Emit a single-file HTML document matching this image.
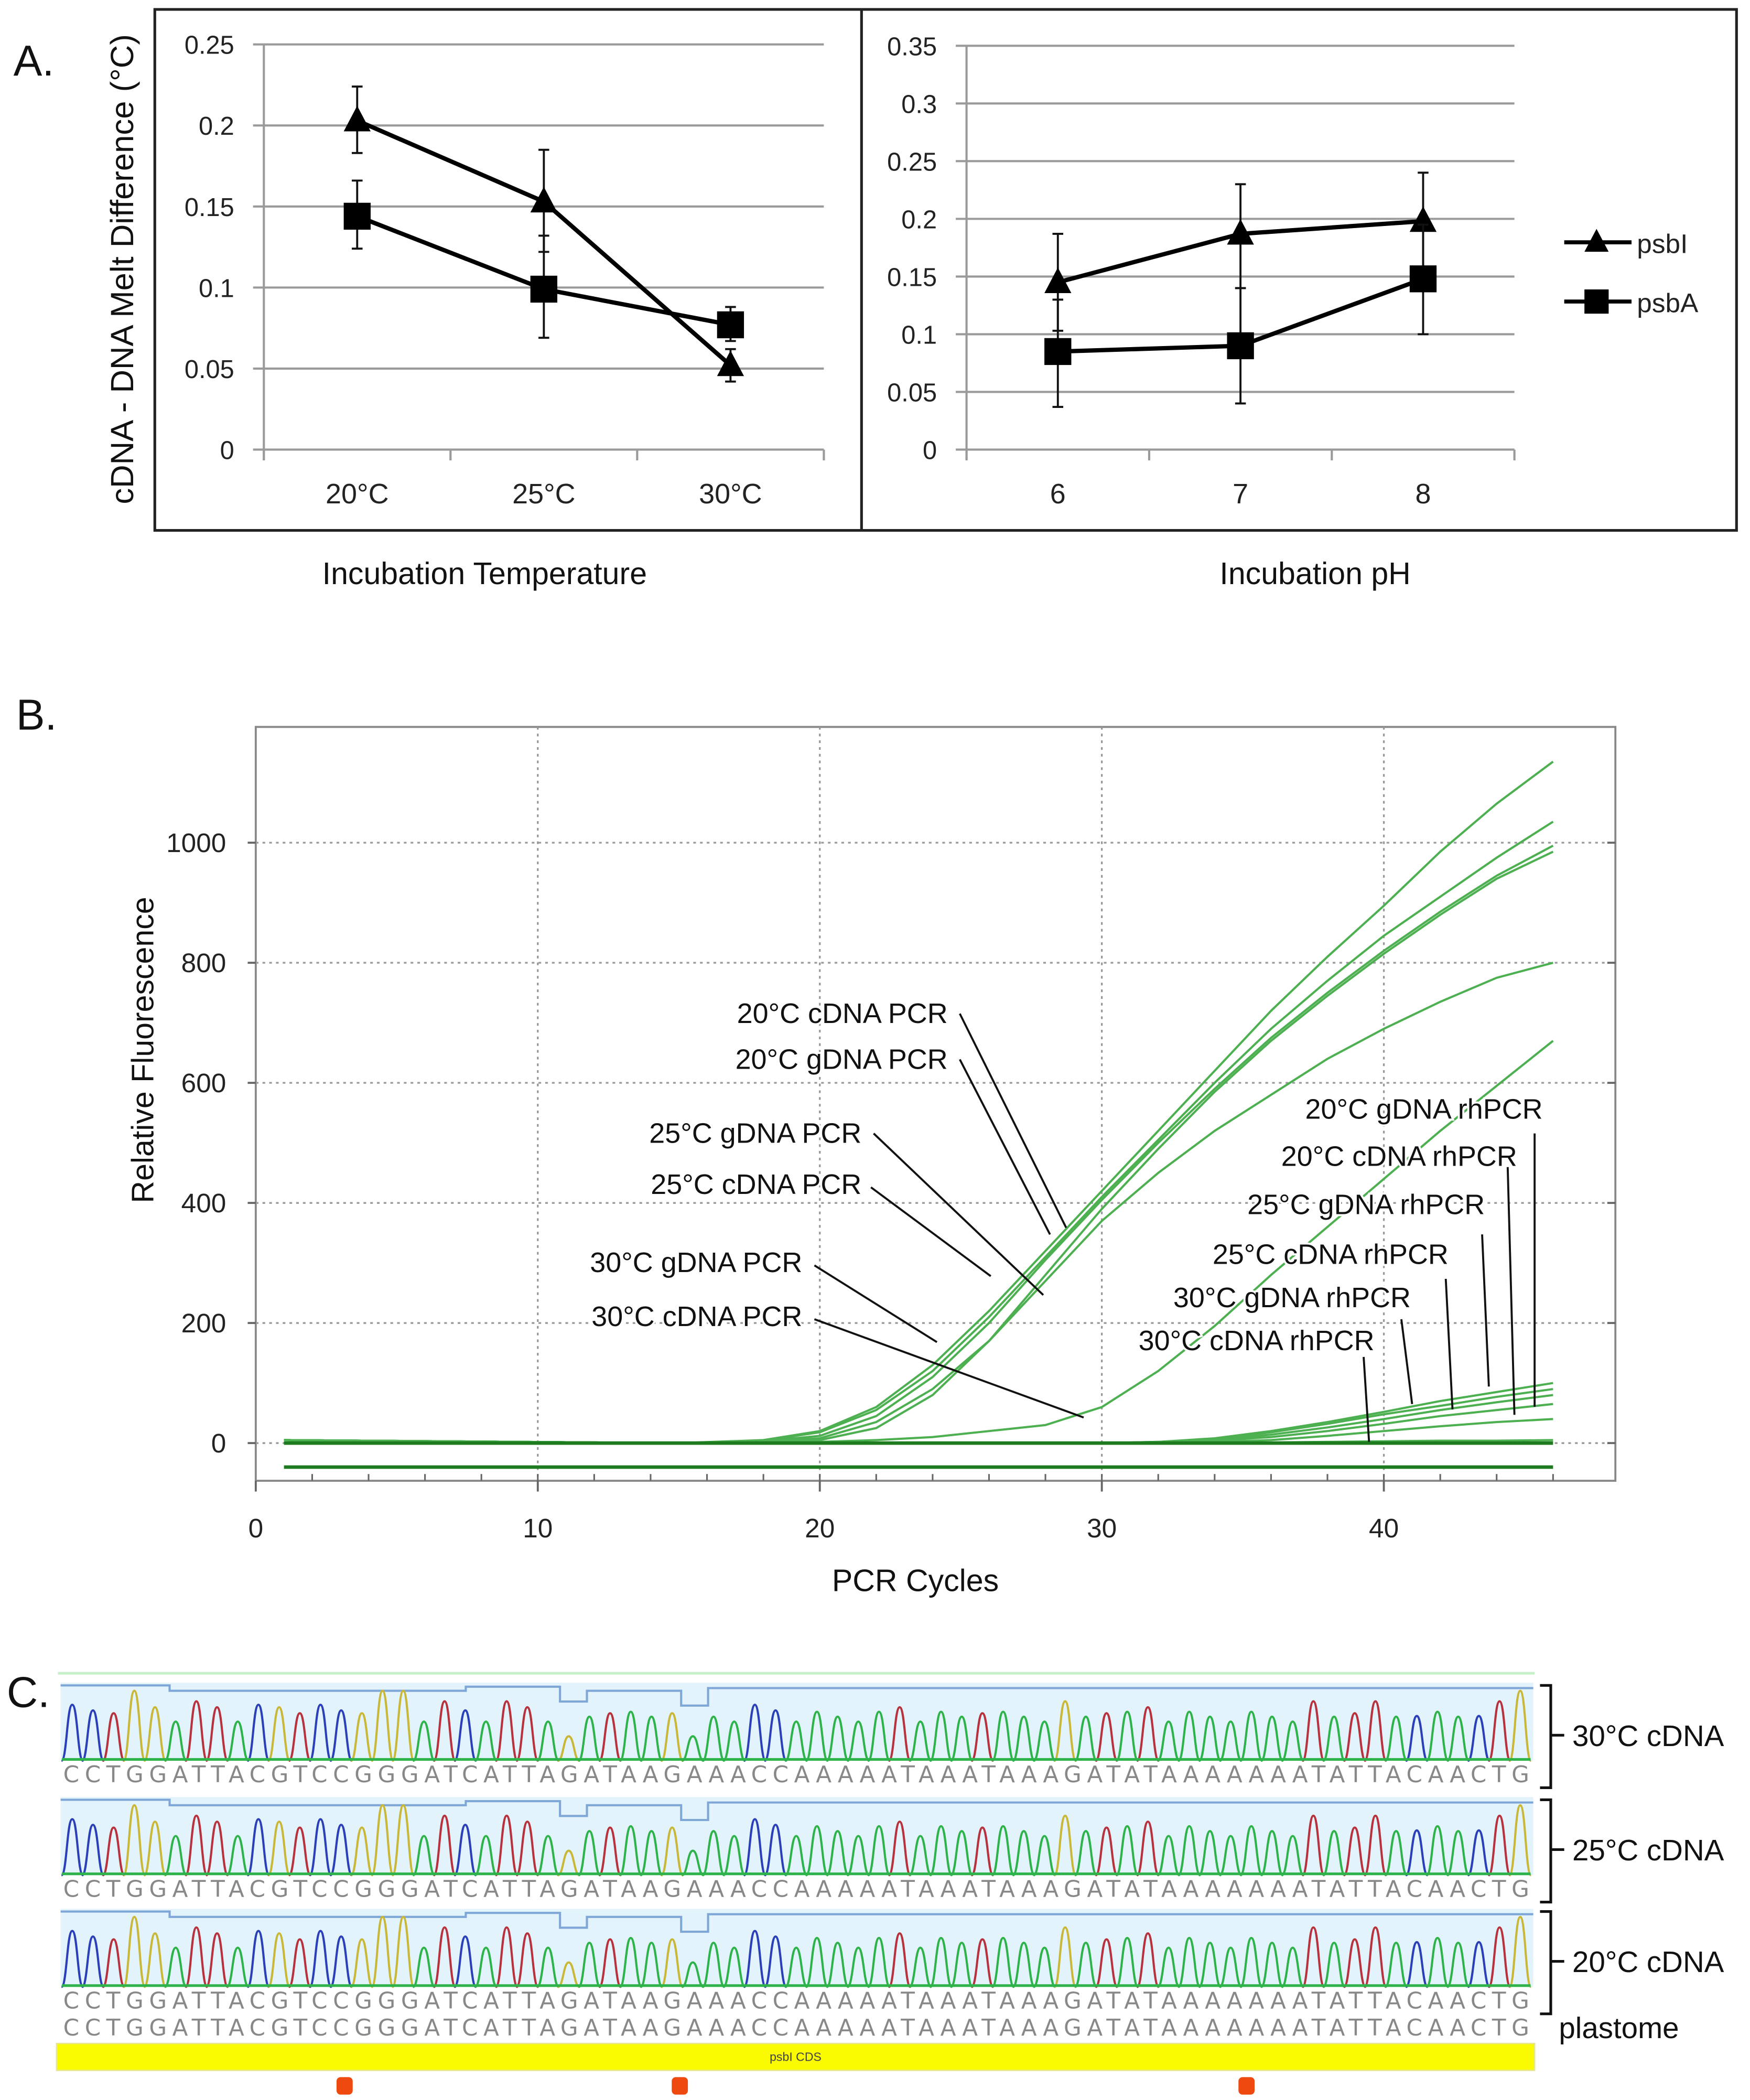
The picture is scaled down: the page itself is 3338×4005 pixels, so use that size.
<!DOCTYPE html>
<html><head><meta charset="utf-8"><style>
html,body{margin:0;padding:0;background:#fff;}
svg{display:block;}
text{font-family:"Liberation Sans Narrow","Liberation Sans",sans-serif;}
</style></head><body>
<svg id="fig" xmlns="http://www.w3.org/2000/svg" width="3338" height="4005" viewBox="0 0 1300 1560" preserveAspectRatio="none">
<rect x="0" y="0" width="1300" height="1560" fill="#fff"/>
<g id="pa"></g>
<g id="pb"></g>
<g id="pc"></g>
</svg>
<script>
// ---------- Panel A data ----------
const tempCats = ["20°C","25°C","30°C"];
const tempPsbI = [0.203,0.153,0.052];
const tempPsbIlo = [0.183,0.122,0.042];
const tempPsbIhi = [0.224,0.185,0.062];
const tempPsbA = [0.144,0.099,0.077];
const tempPsbAlo = [0.124,0.069,0.067];
const tempPsbAhi = [0.166,0.132,0.088];
const tempTicks = ["0","0.05","0.1","0.15","0.2","0.25"];
const phCats = ["6","7","8"];
const phPsbI = [0.145,0.187,0.198];
const phPsbIlo = [0.103,0.140,0.155];
const phPsbIhi = [0.187,0.230,0.240];
const phPsbA = [0.085,0.090,0.148];
const phPsbAlo = [0.037,0.040,0.100];
const phPsbAhi = [0.130,0.140,0.195];
const phTicks = ["0","0.05","0.1","0.15","0.2","0.25","0.3","0.35"];
// ---------- Panel B data ----------
const cycles = [1,15,18,20,22,24,26,28,30,32,34,36,38,40,42,44,46];
const curve20cDNA = [5,0,5,20,60,130,220,320,420,520,620,720,810,895,985,1065,1135];
const curve20gDNA = [5,0,4,18,55,120,210,310,410,505,600,690,770,845,910,975,1035];
const curve25gDNA = [5,0,3,12,45,110,200,305,405,500,590,675,750,820,885,945,995];
const curve25cDNA = [5,0,1,5,25,80,170,280,390,490,585,670,745,815,880,940,985];
const curve30gDNA = [5,0,2,8,35,90,170,270,370,450,520,580,640,690,735,775,800];
const curve30cDNA = [5,0,0,2,5,10,20,30,60,120,195,280,360,440,520,595,670];
const rh20gDNA = [5,0,0,0,0,0,0,0,0,2,8,20,35,52,70,85,100];
const rh20cDNA = [5,0,0,0,0,0,0,0,0,2,7,18,32,48,62,77,90];
const rh25gDNA = [5,0,0,0,0,0,0,0,0,1,5,14,26,40,55,68,80];
const rh25cDNA = [5,0,0,0,0,0,0,0,0,1,4,10,20,32,45,55,65];
const rh30gDNA = [5,0,0,0,0,0,0,0,0,0,2,5,12,20,28,35,40];
const rh30cDNA = [5,0,0,0,0,0,0,0,0,0,0,1,2,3,4,4,5];
const flatLine = [-40,-40,-40,-40,-40,-40,-40,-40,-40,-40,-40,-40,-40,-40,-40,-40,-40];
const xTicksB = [0,10,20,30,40];
const yTicksB = [0,200,400,600,800,1000];
// ---------- Panel C data ----------
const seq = "CCTGGATTACGTCCGGGATCATTAGATAAGAAACCAAAAATAAATAAAGATATAAAAAAATATTACAACTG";
const trackNames = ["30°C cDNA","25°C cDNA","20°C cDNA"];

const NS="http://www.w3.org/2000/svg";
function mk(parent,tag,attrs,text){const e=document.createElementNS(NS,tag);for(const k in attrs)e.setAttribute(k,attrs[k]);if(text!==undefined)e.textContent=text;parent.appendChild(e);return e;}

// ---------- Panel A ----------
const pa=document.getElementById('pa');
let t;
t=mk(pa,'text',{x:10,y:56,'font-size':32,fill:'#111'},'A.');


let r=mk(pa,'rect',{x:115,y:7,width:1175,height:387,fill:'none',stroke:'#222','stroke-width':2});


mk(pa,'line',{x1:640,y1:7,x2:640,y2:394,stroke:'#222','stroke-width':2});
t=mk(pa,'text',{x:0,y:0,'font-size':24,fill:'#111','text-anchor':'middle',transform:'translate(99,200) rotate(-90)',style:'font-family:"Liberation Sans",sans-serif'},'cDNA - DNA Melt Difference (°C)');



function lineChart(g,opt){
  const {x0,x1,yTop,yBot,maxV,ticks,cats,sI,sIlo,sIhi,sA,sAlo,sAhi,xlabel,labX}=opt;
  const ys=v=>yBot-(v/maxV)*(yBot-yTop);
  const n=cats.length, bw=(x1-x0)/n;
  const xs=i=>x0+bw*(i+0.5);
  ticks.forEach(tk=>{const v=parseFloat(tk);
    const l=mk(g,'line',{x1:x0-8,y1:ys(v),x2:x1,y2:ys(v),stroke:'#9a9a9a','stroke-width':1.6});
    
    
    const tx=mk(g,'text',{x:x0-22,y:ys(v)+7,'font-size':19,'text-anchor':'end',fill:'#222'},tk);
    
    
  });
  mk(g,'line',{x1:x0,y1:yTop,x2:x0,y2:yBot+8,stroke:'#9a9a9a','stroke-width':1.6});
  for(let i=0;i<=n;i++) mk(g,'line',{x1:x0+bw*i,y1:yBot,x2:x0+bw*i,y2:yBot+8,stroke:'#9a9a9a','stroke-width':1.6});
  cats.forEach((c,i)=>{const tx=mk(g,'text',{x:xs(i),y:yBot+40,'font-size':21,'text-anchor':'middle',fill:'#222'},c);
    
    });
  const tx=mk(g,'text',{x:labX,y:yBot+100,'font-size':23,'text-anchor':'middle',fill:'#111',style:'font-family:"Liberation Sans",sans-serif'},xlabel);
  
  
  [[sI,sIlo,sIhi,'tri'],[sA,sAlo,sAhi,'sq']].forEach(([s,lo,hi,m])=>{
    s.forEach((v,i)=>{const x=xs(i);
      const e=mk(g,'path',{d:`M${x},${ys(lo[i])}V${ys(hi[i])}M${x-4},${ys(lo[i])}H${x+4}M${x-4},${ys(hi[i])}H${x+4}`,stroke:'#111','stroke-width':1.5,fill:'none'});
      
      
    });
    const p=mk(g,'polyline',{points:s.map((v,i)=>xs(i)+','+ys(v)).join(' '),fill:'none',stroke:'#000','stroke-width':3.2});
    
    
    s.forEach((v,i)=>{const x=xs(i),y=ys(v);let mm;
      if(m==='tri') mm=mk(g,'path',{d:`M${x},${y-11}L${x+10},${y+8}L${x-10},${y+8}Z`,fill:'#000'});
      else mm=mk(g,'rect',{x:x-10,y:y-10,width:20,height:20,fill:'#000'});
      
      
    });
  });
}
lineChart(pa,{x0:196,x1:612,yTop:33,yBot:334,maxV:0.25,ticks:tempTicks,cats:tempCats,sI:tempPsbI,sIlo:tempPsbIlo,sIhi:tempPsbIhi,sA:tempPsbA,sAlo:tempPsbAlo,sAhi:tempPsbAhi,xlabel:'Incubation Temperature',labX:360});
lineChart(pa,{x0:718,x1:1125,yTop:34,yBot:334,maxV:0.35,ticks:phTicks,cats:phCats,sI:phPsbI,sIlo:phPsbIlo,sIhi:phPsbIhi,sA:phPsbA,sAlo:phPsbAlo,sAhi:phPsbAhi,xlabel:'Incubation pH',labX:977});
let lg=mk(pa,'g',{});


mk(lg,'line',{x1:1162,y1:180,x2:1212,y2:180,stroke:'#000','stroke-width':3});
mk(lg,'path',{d:'M1186,170L1195,187L1177,187Z',fill:'#000'});
t=mk(lg,'text',{x:1216,y:188,'font-size':20,fill:'#222'},'psbI');


mk(lg,'line',{x1:1162,y1:224,x2:1212,y2:224,stroke:'#000','stroke-width':3});
mk(lg,'rect',{x:1177,y:215,width:18,height:18,fill:'#000'});
t=mk(lg,'text',{x:1216,y:232,'font-size':20,fill:'#222'},'psbA');



// ---------- Panel B ----------
const pb=document.getElementById('pb');
const bx0=190,bx1=1200,byT=540,byB=1100;
const xB=c=>190+20.95*c;
const yB=v=>1072-0.446*v;
t=mk(pb,'text',{x:12,y:542,'font-size':32,fill:'#111'},'B.');


r=mk(pb,'rect',{x:bx0,y:byT,width:bx1-bx0,height:byB-byT,fill:'none',stroke:'#888','stroke-width':1.5});


xTicksB.forEach(c=>{
  if(c>0){const l=mk(pb,'line',{x1:xB(c),y1:byT,x2:xB(c),y2:byB,stroke:'#999','stroke-width':1.3,'stroke-dasharray':'2,3'});
  
  }
  mk(pb,'line',{x1:xB(c),y1:byB,x2:xB(c),y2:byB+8,stroke:'#666','stroke-width':1.5});
  const tx=mk(pb,'text',{x:xB(c),y:byB+42,'font-size':20,'text-anchor':'middle',fill:'#222'},String(c));
  
  
});
for(let c=2;c<=46;c+=2) mk(pb,'line',{x1:xB(c),y1:byB-5,x2:xB(c),y2:byB,stroke:'#666','stroke-width':1.2});
yTicksB.forEach(v=>{
  const l=mk(pb,'line',{x1:bx0,y1:yB(v),x2:bx1,y2:yB(v),stroke:'#999','stroke-width':1.3,'stroke-dasharray':'2,3'});
  
  
  mk(pb,'line',{x1:bx0-6,y1:yB(v),x2:bx0,y2:yB(v),stroke:'#666','stroke-width':1.5});
  mk(pb,'line',{x1:bx1-6,y1:yB(v),x2:bx1,y2:yB(v),stroke:'#666','stroke-width':1.5});
  const tx=mk(pb,'text',{x:bx0-22,y:yB(v)+7,'font-size':20,'text-anchor':'end',fill:'#222'},String(v));
  
  
});
t=mk(pb,'text',{x:0,y:0,'font-size':23,'text-anchor':'middle',fill:'#111',transform:'translate(114,780) rotate(-90)',style:'font-family:"Liberation Sans",sans-serif'},'Relative Fluorescence');


t=mk(pb,'text',{x:680,y:1182,'font-size':23,'text-anchor':'middle',fill:'#111',style:'font-family:"Liberation Sans",sans-serif'},'PCR Cycles');


const series=[["curve-20c-cdna-pcr",curve20cDNA],["curve-20c-gdna-pcr",curve20gDNA],["curve-25c-gdna-pcr",curve25gDNA],["curve-25c-cdna-pcr",curve25cDNA],["curve-30c-gdna-pcr",curve30gDNA],["curve-30c-cdna-pcr",curve30cDNA],["curve-20c-gdna-rhpcr",rh20gDNA],["curve-20c-cdna-rhpcr",rh20cDNA],["curve-25c-gdna-rhpcr",rh25gDNA],["curve-25c-cdna-rhpcr",rh25cDNA],["curve-30c-gdna-rhpcr",rh30gDNA],["curve-30c-cdna-rhpcr",rh30cDNA]];
series.forEach(([nm,vals])=>{
  const p=mk(pb,'polyline',{points:cycles.map((c,i)=>xB(c)+','+yB(vals[i])).join(' '),fill:'none',stroke:'#4caf50','stroke-width':1.6});
  
  
});
let bl=mk(pb,'line',{x1:xB(1),y1:yB(0),x2:xB(46),y2:yB(0),stroke:'#1e7a1e','stroke-width':2.6});


bl=mk(pb,'polyline',{points:cycles.map((c,i)=>xB(c)+','+yB(flatLine[i])).join(' '),fill:'none',stroke:'#1e7a1e','stroke-width':2.6});


const labs=[
 ["20°C cDNA PCR",704,760,713,753,792,912],
 ["20°C gDNA PCR",704,794,713,787,780,917],
 ["25°C gDNA PCR",640,849,649,842,775,962],
 ["25°C cDNA PCR",640,887,647,882,736,948],
 ["30°C gDNA PCR",596,945,605,940,696,997],
 ["30°C cDNA PCR",596,985,605,980,805,1053],
 ["20°C gDNA rhPCR",1146,831,1140,842,1140,1045],
 ["20°C cDNA rhPCR",1127,866,1120,867,1125,1051],
 ["25°C gDNA rhPCR",1103,902,1101,917,1106,1030],
 ["25°C cDNA rhPCR",1076,939,1074,950,1079,1047],
 ["30°C gDNA rhPCR",1048,971,1041,980,1049,1043],
 ["30°C cDNA rhPCR",1021,1003,1013,1008,1017,1071]];
labs.forEach(([s,x,y,a,b,c,d])=>{
  const tx=mk(pb,'text',{x:x,y:y,'font-size':21,'text-anchor':'end',fill:'#111',stroke:'#fff','stroke-width':3,'paint-order':'stroke'},s);
  
  
  const l=mk(pb,'line',{x1:a,y1:b,x2:c,y2:d,stroke:'#111','stroke-width':1.5});
  
  
});

// ---------- Panel C ----------
const pc=document.getElementById('pc');
t=mk(pc,'text',{x:5,y:1268,'font-size':32,fill:'#111'},'C.');


mk(pc,'line',{x1:43,y1:1243,x2:1140,y2:1243,stroke:'#c8f0c8','stroke-width':2});
const cx0=46,cx1=1137,step=(cx1-cx0)/seq.length;
const col={A:'#2db34a',C:'#2a3fb8',G:'#c9b838',T:'#b8323e'};
const hBase={A:0.7,C:0.8,G:0.85,T:0.85};
const tops=[1250,1335,1418];
trackNames.forEach((nm,k)=>{
  const top=tops[k],bot=top+58;
  const g=mk(pc,'g',{});
  
  
  mk(g,'rect',{x:cx0-1,y:top,width:cx1-cx0+3,height:58,fill:'#e3f3fb'});
  mk(g,'path',{d:`M${cx0-1},${top+2}H${cx0+80}V${top+6}H${cx0+300}V${top+3}H${cx0+370}V${top+14}H${cx0+390}V${top+6}H${cx0+460}V${top+17}H${cx0+480}V${top+4}H${cx1+2}`,fill:'none',stroke:'#7ea6d6','stroke-width':1.6});
  for(let i=0;i<seq.length;i++){
    const b=seq[i];const x=cx0+step*(i+0.5);
    let h=hBase[b]*(i%3===0?1:(i%3===1?0.9:0.8));
    if(i===3||i===15||i===16||i===70) h=1.0;
    if(i===24||i===30) h=0.35;
    const y=bot-h*52;
    mk(g,'path',{d:`M${x-8},${bot}C${x-4},${bot} ${x-4},${y} ${x},${y}C${x+4},${y} ${x+4},${bot} ${x+8},${bot}`,fill:'none',stroke:col[b],'stroke-width':1.6});
  }
  mk(g,'line',{x1:cx0,y1:bot-1,x2:cx1,y2:bot-1,stroke:'#2db34a','stroke-width':2});
  const st=mk(pc,'text',{x:cx0+1,y:bot+16,'font-size':17,fill:'#888',textLength:cx1-cx0-2,lengthAdjust:'spacing',style:'font-family:"DejaVu Sans",sans-serif'},seq);
  
  
  const br=mk(pc,'path',{d:`M1144,${top+2}H1152V${bot+20}H1144M1152,${(top+bot+20)/2}H1162`,fill:'none',stroke:'#111','stroke-width':2});
  
  
  const lb=mk(pc,'text',{x:1168,y:(top+bot+20)/2+8,'font-size':22,fill:'#111',style:'font-family:"Liberation Sans",sans-serif'},nm);
  
  
});
t=mk(pc,'text',{x:cx0+1,y:1512,'font-size':17,fill:'#888',textLength:cx1-cx0-2,lengthAdjust:'spacing',style:'font-family:"DejaVu Sans",sans-serif'},seq);


t=mk(pc,'text',{x:1158,y:1514,'font-size':22,fill:'#111',style:'font-family:"Liberation Sans",sans-serif'},'plastome');


r=mk(pc,'rect',{x:42,y:1518,width:1098,height:20,fill:'#fafa00',stroke:'#e6e690','stroke-width':1});


t=mk(pc,'text',{x:591,y:1531,'font-size':9,'text-anchor':'middle',fill:'#444'},'psbI CDS');


[256,505,926].forEach(x=>{
  const m=mk(pc,'rect',{x:x-6,y:1543,width:12,height:13,rx:3,fill:'#ee4a10'});
  
  
});
</script>
</body></html>
